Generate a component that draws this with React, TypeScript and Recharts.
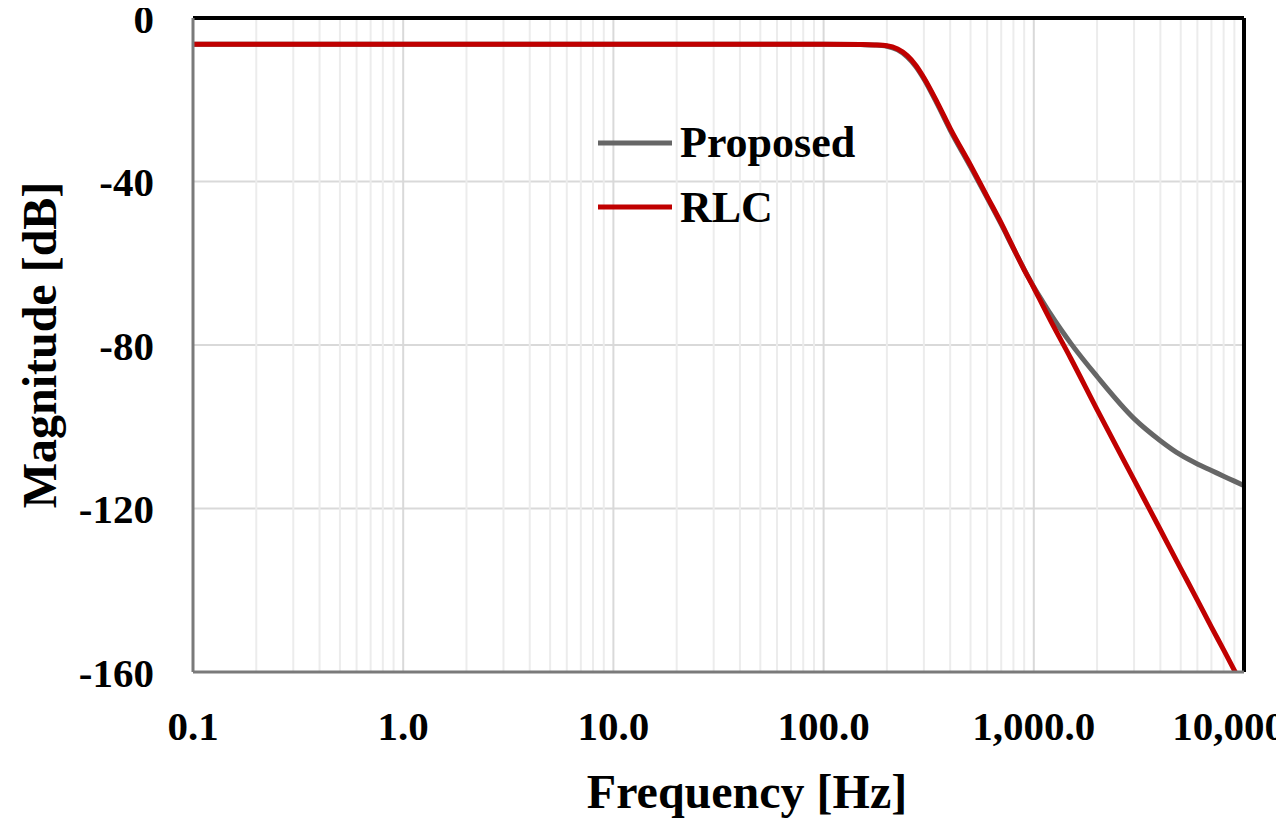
import {
  LineChart,
  Line,
  XAxis,
  YAxis,
  CartesianGrid,
  ReferenceLine,
  Legend,
  Label,
} from "recharts";

const FONT = "'Liberation Serif', 'Times New Roman', serif";

// frequency points (Hz) and magnitude responses (dB)
const freqHz = [
  0.1, 1, 10, 100, 150, 175, 200, 225, 250, 275, 300, 350, 400, 500, 600, 700, 800, 900, 1000, 1100, 1200, 1500,
  2000, 3000, 4000, 5000, 6000, 7000, 8000, 9000, 10000,
];
const proposedDb = [
  -6.4, -6.4, -6.4, -6.4, -6.5, -6.6, -6.9, -7.8, -9.5, -11.9, -14.9, -21.4, -27.4, -36.4, -44.0, -50.5, -56.4,
  -61.5, -65.8, -69.3, -72.4, -79.6, -87.7, -98.0, -103.4, -106.9, -109.1, -110.7, -112.1, -113.3, -114.4,
];
const rlcDb = [
  -6.4, -6.4, -6.4, -6.4, -6.5, -6.6, -6.8, -7.6, -9.2, -11.6, -14.6, -21.0, -27.0, -36.0, -43.7, -50.2, -56.3,
  -61.6, -66.0, -70.2, -74.0, -83.3, -95.8, -113.0, -125.2, -134.7, -142.4, -149.0, -154.6, -159.6, -164.1,
];

const xTicks = [0.1, 1, 10, 100, 1000, 10000];
const yTicks = [0, -40, -80, -120, -160];
const decades = [0.1, 1, 10, 100, 1000];

const series = [
  { key: "proposed", name: "Proposed", color: "#666666" },
  { key: "rlc", name: "RLC", color: "#c00000" },
];

const data = freqHz.map((f, i) => ({ f, proposed: proposedDb[i], rlc: rlcDb[i] }));

// light log-scale gridlines between decades
const minorGrid = decades.flatMap((d) => [2, 3, 4, 5, 6, 7, 8, 9].map((m) => +(d * m).toPrecision(2)));
const majorGrid = [1, 10, 100, 1000];

const fmtFreq = (v: number) =>
  v.toLocaleString("en-US", { minimumFractionDigits: 1, maximumFractionDigits: 1 });

const tickStyle = { fill: "#000", fontSize: 41, fontWeight: "bold", fontFamily: FONT };

function LegendBox() {
  return (
    <svg width={290} height={116} style={{ display: "block" }}>
      {series.map((s, i) => (
        <g key={s.key}>
          <line x1={2} x2={76} y1={25 + i * 64} y2={25 + i * 64} stroke={s.color} strokeWidth={5} />
          <text x={84} y={39 + i * 65} fontFamily={FONT} fontWeight="bold" fontSize={44} fill="#000">
            {s.name}
          </text>
        </g>
      ))}
    </svg>
  );
}

export default function App() {
  return (
    <div style={{ margin: -8 }}>
      <LineChart width={1284} height={827} data={data} margin={{ top: 18, right: 40, bottom: 0, left: 0 }}>
        <CartesianGrid vertical={false} stroke="#d9d9d9" strokeWidth={2} />
        {minorGrid.map((v) => (
          <ReferenceLine key={`m${v}`} x={v} stroke="#ececec" strokeWidth={2} />
        ))}
        {majorGrid.map((v) => (
          <ReferenceLine key={`M${v}`} x={v} stroke="#d9d9d9" strokeWidth={2} />
        ))}
        <XAxis
          dataKey="f"
          type="number"
          scale="log"
          domain={[0.1, 10000]}
          ticks={xTicks}
          tickFormatter={fmtFreq}
          tick={tickStyle}
          tickLine={false}
          tickSize={0}
          tickMargin={39}
          height={155}
          axisLine={{ stroke: "#7a7a7a", strokeWidth: 3 }}
          interval={0}
        >
          <Label
            content={() => (
              <text x={747} y={808} textAnchor="middle" fontFamily={FONT} fontWeight="bold" fontSize={48} fill="#000">
                Frequency [Hz]
              </text>
            )}
          />
        </XAxis>
        <YAxis
          type="number"
          domain={[-160, 0]}
          ticks={yTicks}
          allowDataOverflow
          tick={tickStyle}
          tickLine={false}
          tickSize={0}
          tickMargin={39}
          width={193}
          axisLine={{ stroke: "#7a7a7a", strokeWidth: 3 }}
          interval={0}
        >
          <Label
            content={() => (
              <text
                x={56}
                y={345}
                transform="rotate(-90 56 345)"
                textAnchor="middle"
                fontFamily={FONT}
                fontWeight="bold"
                fontSize={48}
                fill="#000"
              >
                Magnitude [dB]
              </text>
            )}
          />
        </YAxis>
        <Legend
          layout="vertical"
          align="center"
          verticalAlign="middle"
          wrapperStyle={{ left: 596, top: 118, width: 290 }}
          content={() => <LegendBox />}
        />
        {series.map((s) => (
          <Line
            key={s.key}
            dataKey={s.key}
            name={s.name}
            type="monotone"
            stroke={s.color}
            strokeWidth={5}
            dot={false}
            isAnimationActive={false}
          />
        ))}
        <ReferenceLine y={0} stroke="#000" strokeWidth={4} />
        <ReferenceLine x={10000} stroke="#000" strokeWidth={4} />
      </LineChart>
    </div>
  );
}
